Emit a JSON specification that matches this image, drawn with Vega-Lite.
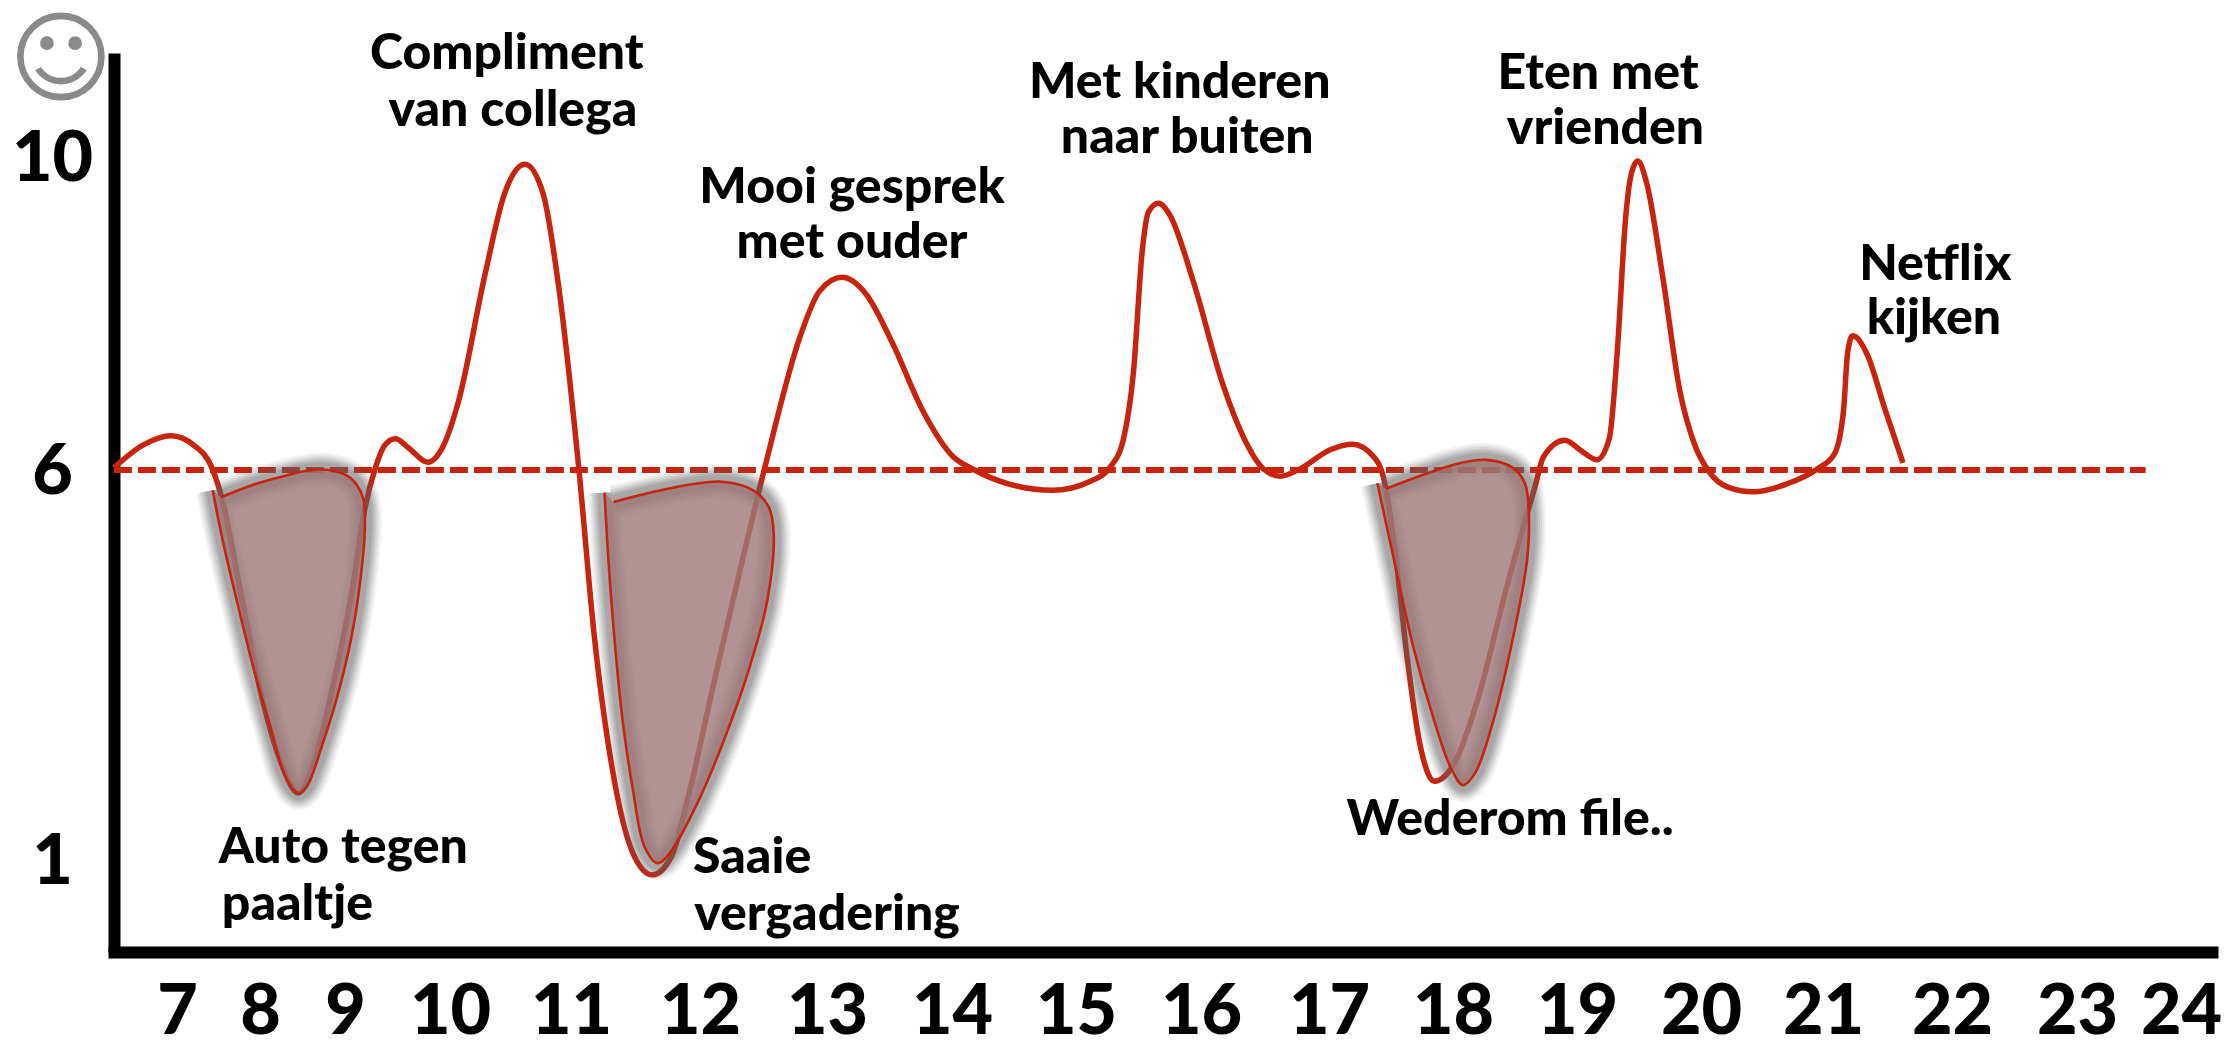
{"$schema":"https://vega.github.io/schema/vega-lite/v6.json","width":2098,"height":899,"autosize":{"type":"none"},"padding":{"left":114,"top":53,"right":19,"bottom":97},"background":"white","view":{"stroke":null},
"datasets":{
"mood":[{"hour":6.24,"score":6.03},{"hour":6.59,"score":6.32},{"hour":6.93,"score":6.44},{"hour":7.2,"score":6.32},{"hour":7.42,"score":6.03},{"hour":7.54,"score":5.64},{"hour":7.76,"score":4.47},{"hour":8.0,"score":3.19},{"hour":8.25,"score":2.24},{"hour":8.45,"score":1.86},{"hour":8.66,"score":2.33},{"hour":8.85,"score":3.19},{"hour":9.07,"score":4.47},{"hour":9.19,"score":5.51},{"hour":9.29,"score":6.03},{"hour":9.38,"score":6.32},{"hour":9.48,"score":6.4},{"hour":9.6,"score":6.29},{"hour":9.79,"score":6.1},{"hour":9.94,"score":6.32},{"hour":10.07,"score":6.88},{"hour":10.29,"score":8.51},{"hour":10.45,"score":9.54},{"hour":10.62,"score":9.92},{"hour":10.77,"score":9.54},{"hour":10.9,"score":8.33},{"hour":11.06,"score":6.03},{"hour":11.18,"score":3.88},{"hour":11.32,"score":2.17},{"hour":11.48,"score":1.09},{"hour":11.63,"score":0.81},{"hour":11.78,"score":1.05},{"hour":11.91,"score":1.82},{"hour":12.11,"score":3.28},{"hour":12.33,"score":4.82},{"hour":12.47,"score":5.77},{"hour":12.51,"score":6.03},{"hour":12.79,"score":7.72},{"hour":12.94,"score":8.29},{"hour":13.12,"score":8.47},{"hour":13.31,"score":8.26},{"hour":13.52,"score":7.64},{"hour":13.76,"score":6.78},{"hour":14.01,"score":6.17},{"hour":14.17,"score":6.01},{"hour":14.46,"score":5.82},{"hour":14.81,"score":5.74},{"hour":15.12,"score":5.86},{"hour":15.28,"score":6.05},{"hour":15.38,"score":6.4},{"hour":15.46,"score":7.26},{"hour":15.53,"score":8.81},{"hour":15.58,"score":9.31},{"hour":15.66,"score":9.42},{"hour":15.75,"score":9.27},{"hour":15.94,"score":8.41},{"hour":16.17,"score":7.1},{"hour":16.35,"score":6.36},{"hour":16.49,"score":6.01},{"hour":16.62,"score":5.92},{"hour":16.77,"score":6.01},{"hour":17.01,"score":6.26},{"hour":17.19,"score":6.33},{"hour":17.36,"score":6.17},{"hour":17.44,"score":5.9},{"hour":17.53,"score":5.0},{"hour":17.63,"score":3.6},{"hour":17.73,"score":2.51},{"hour":17.85,"score":2.01},{"hour":18.01,"score":2.24},{"hour":18.2,"score":3.06},{"hour":18.44,"score":4.54},{"hour":18.66,"score":5.78},{"hour":18.73,"score":6.17},{"hour":18.9,"score":6.38},{"hour":19.04,"score":6.24},{"hour":19.16,"score":6.13},{"hour":19.26,"score":6.4},{"hour":19.33,"score":7.64},{"hour":19.39,"score":9.19},{"hour":19.44,"score":9.81},{"hour":19.49,"score":9.96},{"hour":19.56,"score":9.69},{"hour":19.69,"score":8.49},{"hour":19.83,"score":7.01},{"hour":19.95,"score":6.32},{"hour":20.07,"score":5.97},{"hour":20.22,"score":5.78},{"hour":20.43,"score":5.72},{"hour":20.7,"score":5.82},{"hour":20.95,"score":6.01},{"hour":21.09,"score":6.21},{"hour":21.16,"score":6.78},{"hour":21.19,"score":7.49},{"hour":21.23,"score":7.72},{"hour":21.34,"score":7.49},{"hour":21.48,"score":6.78},{"hour":21.62,"score":6.09}],
"baseline":[{"hour":6.24,"score":6},{"hour":23.66,"score":6}],
"dips":[{"lobe":"a","i":1,"hour":7.43,"score":5.74},{"lobe":"a","i":2,"hour":7.55,"score":5.1},{"lobe":"a","i":3,"hour":7.72,"score":4.33},{"lobe":"a","i":4,"hour":7.92,"score":3.47},{"lobe":"a","i":5,"hour":8.12,"score":2.71},{"lobe":"a","i":6,"hour":8.27,"score":2.15},{"lobe":"a","i":7,"hour":8.38,"score":1.92},{"lobe":"a","i":8,"hour":8.46,"score":1.86},{"lobe":"a","i":9,"hour":8.55,"score":1.94},{"lobe":"a","i":10,"hour":8.74,"score":2.5},{"lobe":"a","i":11,"hour":8.94,"score":3.22},{"lobe":"a","i":12,"hour":9.08,"score":3.99},{"lobe":"a","i":13,"hour":9.17,"score":4.88},{"lobe":"a","i":14,"hour":9.19,"score":5.36},{"lobe":"a","i":15,"hour":9.17,"score":5.65},{"lobe":"a","i":16,"hour":9.05,"score":5.9},{"lobe":"a","i":17,"hour":8.81,"score":6.0},{"lobe":"a","i":18,"hour":8.55,"score":5.99},{"lobe":"a","i":19,"hour":8.24,"score":5.91},{"lobe":"a","i":20,"hour":7.92,"score":5.81},{"lobe":"a","i":21,"hour":7.53,"score":5.65},
{"lobe":"b","i":1,"hour":11.26,"score":5.71},{"lobe":"b","i":2,"hour":11.29,"score":4.85},{"lobe":"b","i":3,"hour":11.34,"score":3.78},{"lobe":"b","i":4,"hour":11.4,"score":2.79},{"lobe":"b","i":5,"hour":11.48,"score":1.9},{"lobe":"b","i":6,"hour":11.57,"score":1.17},{"lobe":"b","i":7,"hour":11.67,"score":0.96},{"lobe":"b","i":8,"hour":11.77,"score":1.1},{"lobe":"b","i":9,"hour":11.98,"score":1.73},{"lobe":"b","i":10,"hour":12.18,"score":2.5},{"lobe":"b","i":11,"hour":12.39,"score":3.47},{"lobe":"b","i":12,"hour":12.53,"score":4.33},{"lobe":"b","i":13,"hour":12.58,"score":5.19},{"lobe":"b","i":14,"hour":12.54,"score":5.53},{"lobe":"b","i":15,"hour":12.42,"score":5.74},{"lobe":"b","i":16,"hour":12.18,"score":5.85},{"lobe":"b","i":17,"hour":11.95,"score":5.82},{"lobe":"b","i":18,"hour":11.67,"score":5.73},{"lobe":"b","i":19,"hour":11.33,"score":5.59},
{"lobe":"c","i":1,"hour":17.39,"score":5.83},{"lobe":"c","i":2,"hour":17.52,"score":4.88},{"lobe":"c","i":3,"hour":17.68,"score":3.73},{"lobe":"c","i":4,"hour":17.84,"score":2.83},{"lobe":"c","i":5,"hour":17.98,"score":2.19},{"lobe":"c","i":6,"hour":18.08,"score":1.96},{"lobe":"c","i":7,"hour":18.18,"score":2.12},{"lobe":"c","i":8,"hour":18.32,"score":2.76},{"lobe":"c","i":9,"hour":18.48,"score":3.82},{"lobe":"c","i":10,"hour":18.6,"score":4.88},{"lobe":"c","i":11,"hour":18.61,"score":5.49},{"lobe":"c","i":12,"hour":18.58,"score":5.83},{"lobe":"c","i":13,"hour":18.48,"score":6.03},{"lobe":"c","i":14,"hour":18.27,"score":6.13},{"lobe":"c","i":15,"hour":18.06,"score":6.09},{"lobe":"c","i":16,"hour":17.76,"score":5.94},{"lobe":"c","i":17,"hour":17.46,"score":5.76}],
"notes":[{"hour":10.47,"score":11.33,"label":"Compliment"},{"hour":10.52,"score":10.6,"label":"van collega"},{"hour":13.2,"score":9.62,"label":"Mooi gesprek"},{"hour":13.2,"score":8.91,"label":"met ouder"},{"hour":15.83,"score":10.96,"label":"Met kinderen"},{"hour":15.89,"score":10.26,"label":"naar buiten"},{"hour":19.17,"score":11.08,"label":"Eten met"},{"hour":19.23,"score":10.37,"label":"vrienden"},{"hour":21.87,"score":8.63,"label":"Netflix"},{"hour":21.86,"score":7.94,"label":"kijken"},{"hour":8.98,"score":1.15,"label":"Auto tegen"},{"hour":8.44,"score":0.42,"label":"paaltje"},{"hour":12.41,"score":1.03,"label":"Saaie"},{"hour":13.0,"score":0.29,"label":"vergadering"},{"hour":18.46,"score":1.51,"label":"Wederom file.."}],
"face":[{"hour":5.6,"score":11.22,"label":"☺"}]
},
"encoding":{
"x":{"field":"hour","type":"quantitative","scale":{"domain":[6.241,7,8,9,10,11,12,13,14,15,16,17,18,19,20,21,22,23,24,24.3],"range":[0,63,146,231,336,457,586,713,838,962,1087,1215,1339,1463,1587,1709,1838,1963,2067,2098]},
"axis":{"title":null,"grid":false,"ticks":false,"values":[7,8,9,10,11,12,13,14,15,16,17,18,19,20,21,22,23,24],"format":"d","labelFont":"Lato","labelFontWeight":900,"labelFontSize":70,"labelColor":"black","labelPadding":26,"labelOverlap":false,"labelFlush":false,"labelBound":false,"domainColor":"black","domainWidth":12,"domainCap":"square"}},
"y":{"field":"score","type":"quantitative","scale":{"domain":[-0.179,11.346],"nice":false,"zero":false},
"axis":{"title":null,"grid":false,"ticks":false,"values":[1,6,10],"format":"d","labelFont":"Lato","labelFontWeight":900,"labelFontSize":70,"labelColor":"black","labelAlign":"center","labelPadding":62,"labelOffset":2,"labelOverlap":false,"labelFlush":false,"labelBound":false,"domainColor":"black","domainWidth":12}}
},
"layer":[
{"data":{"name":"mood"},"mark":{"type":"line","color":"#c7230d","strokeWidth":5.5,"interpolate":"monotone"}},
{"data":{"name":"baseline"},"mark":{"type":"line","color":"#c7230d","strokeWidth":6,"strokeDash":[18,6]}},
{"data":{"name":"dips"},"mark":{"type":"line","color":"#666666","opacity":0.07,"strokeWidth":34,"interpolate":"catmull-rom","strokeJoin":"round"},"encoding":{"order":{"field":"i","type":"quantitative"},"detail":{"field":"lobe"}}},
{"data":{"name":"dips"},"mark":{"type":"line","color":"#666666","opacity":0.09,"strokeWidth":30,"interpolate":"catmull-rom","strokeJoin":"round"},"encoding":{"order":{"field":"i","type":"quantitative"},"detail":{"field":"lobe"}}},
{"data":{"name":"dips"},"mark":{"type":"line","color":"#666666","opacity":0.12,"strokeWidth":26,"interpolate":"catmull-rom","strokeJoin":"round"},"encoding":{"order":{"field":"i","type":"quantitative"},"detail":{"field":"lobe"}}},
{"data":{"name":"dips"},"mark":{"type":"line","color":"#666666","opacity":0.14,"strokeWidth":22,"interpolate":"catmull-rom","strokeJoin":"round"},"encoding":{"order":{"field":"i","type":"quantitative"},"detail":{"field":"lobe"}}},
{"data":{"name":"dips"},"mark":{"type":"line","color":"#666666","opacity":0.16,"strokeWidth":18,"interpolate":"catmull-rom","strokeJoin":"round"},"encoding":{"order":{"field":"i","type":"quantitative"},"detail":{"field":"lobe"}}},
{"data":{"name":"dips"},"mark":{"type":"line","color":"#666666","opacity":0.18,"strokeWidth":14,"interpolate":"catmull-rom","strokeJoin":"round"},"encoding":{"order":{"field":"i","type":"quantitative"},"detail":{"field":"lobe"}}},
{"data":{"name":"dips"},"mark":{"type":"line","stroke":null,"fill":"#9f7878","fillOpacity":0.8,"interpolate":"catmull-rom"},"encoding":{"order":{"field":"i","type":"quantitative"},"detail":{"field":"lobe"}}},
{"data":{"name":"dips"},"mark":{"type":"line","color":"#c7230d","strokeWidth":2.6,"interpolate":"catmull-rom"},"encoding":{"order":{"field":"i","type":"quantitative"},"detail":{"field":"lobe"}}},
{"data":{"name":"notes"},"mark":{"type":"text","font":"Lato","fontWeight":900,"fontSize":50,"color":"black","align":"center","baseline":"middle"},"encoding":{"text":{"field":"label"}}},
{"data":{"name":"face"},"mark":{"type":"text","font":"DejaVu Sans","fontSize":100,"color":"#8a8a8a","align":"center","baseline":"middle"},"encoding":{"text":{"field":"label"}}}
]}
